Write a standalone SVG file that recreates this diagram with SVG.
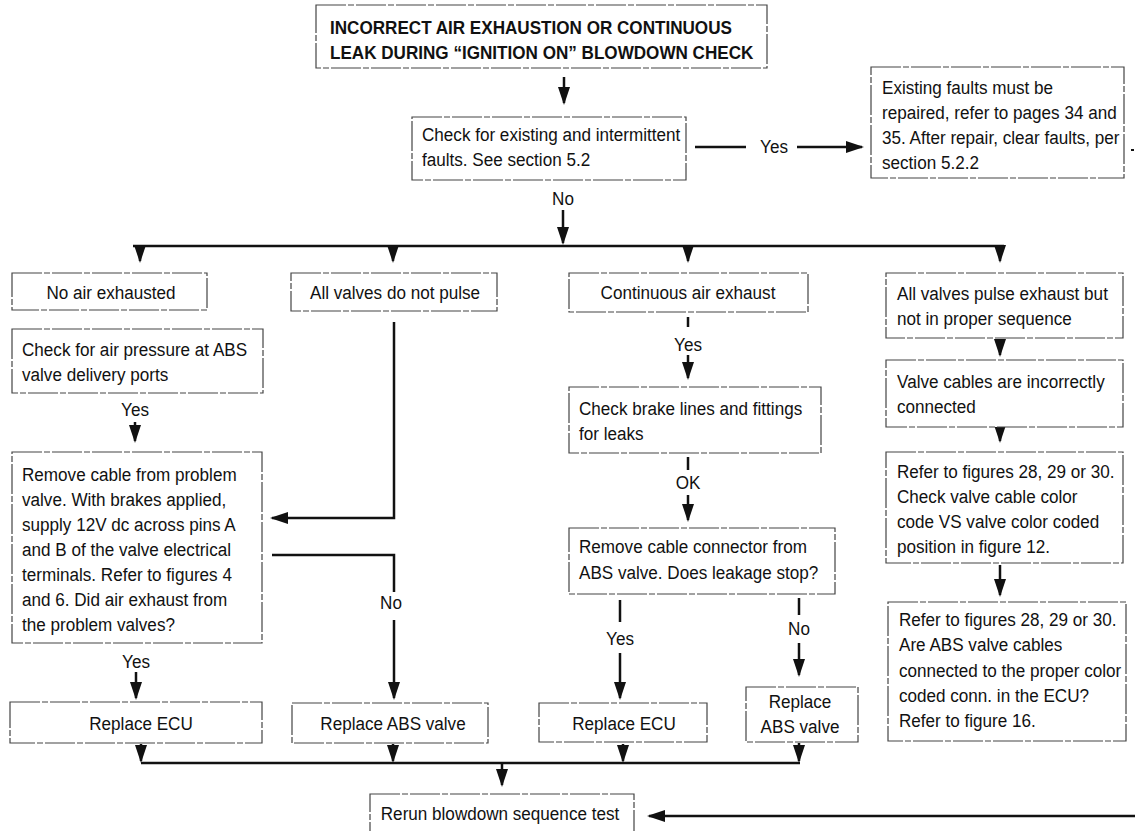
<svg xmlns="http://www.w3.org/2000/svg" width="1135" height="831" viewBox="0 0 1135 831">
<defs>
<style>
.box{fill:#fff;stroke:#444;stroke-width:1.2;stroke-dasharray:30 2 6 2}
.t{font-family:"Liberation Sans",Arial,sans-serif;font-size:19px;fill:#111}
.tb{font-weight:bold}
.m{text-anchor:middle}
.c{fill:none;stroke:#111;stroke-width:2.5}
.a{marker-end:url(#ah)}
</style>
<marker id="ah" viewBox="0 0 18 12" refX="16" refY="6" markerWidth="18" markerHeight="12" markerUnits="userSpaceOnUse" orient="auto">
<path d="M0,0 L18,6 L0,12 z" fill="#111"/>
</marker>
</defs>
<rect width="1135" height="831" fill="#fff"/>

<g id="connectors">
<path class="c a" d="M564,77 V103"/>
<path class="c" d="M695,147 H746"/>
<path class="c a" d="M797,147 H862"/>
<text class="t m" transform="translate(774,153) scale(.9,1)">Yes</text>
<text class="t m" transform="translate(563,205) scale(.9,1)">No</text>
<path class="c a" d="M563,210 V243"/>
<path class="c" d="M133,246 H1004"/>
<path class="c a" d="M140,246 V261"/>
<path class="c a" d="M393,246 V261"/>
<path class="c a" d="M688,246 V261"/>
<path class="c a" d="M1000,246 V261"/>
<text class="t m" transform="translate(135,416) scale(.9,1)">Yes</text>
<path class="c a" d="M135,422 V441"/>
<text class="t m" transform="translate(136,668) scale(.9,1)">Yes</text>
<path class="c a" d="M136,672 V698"/>
<path class="c a" d="M394,322 V518 H272"/>
<path class="c" d="M272,555 H394 V592"/>
<text class="t m" transform="translate(391,609) scale(.9,1)">No</text>
<path class="c a" d="M394,620 V698"/>
<path class="c" d="M688,317 V327"/>
<text class="t m" transform="translate(688,351) scale(.9,1)">Yes</text>
<path class="c a" d="M688,355 V378"/>
<path class="c" d="M688,457 V470"/>
<text class="t m" transform="translate(688,489) scale(.9,1)">OK</text>
<path class="c a" d="M688,495 V520"/>
<path class="c" d="M620,600 V622"/>
<text class="t m" transform="translate(620,645) scale(.9,1)">Yes</text>
<path class="c a" d="M620,653 V698"/>
<path class="c" d="M799,598 V615"/>
<text class="t m" transform="translate(799,635) scale(.9,1)">No</text>
<path class="c a" d="M799,643 V675"/>
<path class="c a" d="M1000,339 V355"/>
<path class="c a" d="M1000,427 V441"/>
<path class="c a" d="M1000,565 V595"/>
<path class="c a" d="M141,744 V761"/>
<path class="c a" d="M393,744 V761"/>
<path class="c a" d="M623,744 V761"/>
<path class="c a" d="M799,743 V761"/>
<path class="c" d="M141,763 H800"/>
<path class="c a" d="M502,763 V785"/>
<path class="c a" d="M1135,816 H649"/>
<rect x="1131" y="149" width="3" height="2" fill="#111"/>
</g>

<g id="n-title">
<rect class="box" x="316" y="5" width="451" height="63"/>
<text class="t tb" transform="translate(330,34) scale(.9,1)"><tspan x="0">INCORRECT AIR EXHAUSTION OR CONTINUOUS</tspan><tspan x="0" dy="25">LEAK DURING “IGNITION ON” BLOWDOWN CHECK</tspan></text>
</g>

<g id="n-check-faults">
<rect class="box" x="412" y="117" width="274" height="63"/>
<text class="t" transform="translate(422,141) scale(.9,1)"><tspan x="0">Check for existing and intermittent</tspan><tspan x="0" dy="25">faults. See section 5.2</tspan></text>
</g>

<g id="n-existing">
<rect class="box" x="871" y="67" width="253" height="111"/>
<text class="t" transform="translate(882,94) scale(.9,1)"><tspan x="0">Existing faults must be</tspan><tspan x="0" dy="25">repaired, refer to pages 34 and</tspan><tspan x="0" dy="25">35. After repair, clear faults, per</tspan><tspan x="0" dy="25">section 5.2.2</tspan></text>
</g>

<g id="n-no-air">
<rect class="box" x="12" y="273" width="195" height="37"/>
<text class="t m" transform="translate(111,299) scale(.9,1)">No air exhausted</text>
</g>

<g id="n-no-pulse">
<rect class="box" x="291" y="273" width="206" height="38"/>
<text class="t m" transform="translate(395,299) scale(.9,1)">All valves do not pulse</text>
</g>

<g id="n-continuous">
<rect class="box" x="569" y="273" width="239" height="39"/>
<text class="t m" transform="translate(688,299) scale(.9,1)">Continuous air exhaust</text>
</g>

<g id="n-sequence">
<rect class="box" x="886" y="273" width="237" height="65"/>
<text class="t" transform="translate(897,300) scale(.9,1)"><tspan x="0">All valves pulse exhaust but</tspan><tspan x="0" dy="25">not in proper sequence</tspan></text>
</g>

<g id="n-air-pressure">
<rect class="box" x="12" y="329" width="251" height="64"/>
<text class="t" transform="translate(22,356) scale(.9,1)"><tspan x="0">Check for air pressure at ABS</tspan><tspan x="0" dy="25">valve delivery ports</tspan></text>
</g>

<g id="n-remove-cable">
<rect class="box" x="12" y="452" width="250" height="191"/>
<text class="t" transform="translate(22,481) scale(.9,1)"><tspan x="0">Remove cable from problem</tspan><tspan x="0" dy="25">valve. With brakes applied,</tspan><tspan x="0" dy="25">supply 12V dc across pins A</tspan><tspan x="0" dy="25">and B of the valve electrical</tspan><tspan x="0" dy="25">terminals. Refer to figures 4</tspan><tspan x="0" dy="25">and 6. Did air exhaust from</tspan><tspan x="0" dy="25">the problem valves?</tspan></text>
</g>

<g id="n-brake-lines">
<rect class="box" x="569" y="387" width="252" height="66"/>
<text class="t" transform="translate(579,415) scale(.9,1)"><tspan x="0">Check brake lines and fittings</tspan><tspan x="0" dy="25">for leaks</tspan></text>
</g>

<g id="n-remove-connector">
<rect class="box" x="569" y="528" width="266" height="66"/>
<text class="t" transform="translate(579,553) scale(.9,1)"><tspan x="0">Remove cable connector from</tspan><tspan x="0" dy="26">ABS valve. Does leakage stop?</tspan></text>
</g>

<g id="n-incorrect">
<rect class="box" x="886" y="360" width="237" height="67"/>
<text class="t" transform="translate(897,388) scale(.9,1)"><tspan x="0">Valve cables are incorrectly</tspan><tspan x="0" dy="25">connected</tspan></text>
</g>

<g id="n-fig12">
<rect class="box" x="886" y="452" width="237" height="111"/>
<text class="t" transform="translate(897,478) scale(.9,1)"><tspan x="0">Refer to figures 28, 29 or 30.</tspan><tspan x="0" dy="25">Check valve cable color</tspan><tspan x="0" dy="25">code VS valve color coded</tspan><tspan x="0" dy="25">position in figure 12.</tspan></text>
</g>

<g id="n-fig16">
<rect class="box" x="888" y="602" width="238" height="139"/>
<text class="t" transform="translate(899,626) scale(.9,1)"><tspan x="0">Refer to figures 28, 29 or 30.</tspan><tspan x="0" dy="25.3">Are ABS valve cables</tspan><tspan x="0" dy="25.3">connected to the proper color</tspan><tspan x="0" dy="25.3">coded conn. in the ECU?</tspan><tspan x="0" dy="25.3">Refer to figure 16.</tspan></text>
</g>

<g id="n-ecu1">
<rect class="box" x="10" y="702" width="252" height="41"/>
<text class="t m" transform="translate(141,730) scale(.9,1)">Replace ECU</text>
</g>

<g id="n-abs1">
<rect class="box" x="292" y="703" width="196" height="40"/>
<text class="t m" transform="translate(393,730) scale(.9,1)">Replace ABS valve</text>
</g>

<g id="n-ecu2">
<rect class="box" x="539" y="703" width="168" height="39"/>
<text class="t m" transform="translate(624,730) scale(.9,1)">Replace ECU</text>
</g>

<g id="n-abs2">
<rect class="box" x="746" y="687" width="112" height="55"/>
<text class="t m" transform="translate(800,708) scale(.9,1)"><tspan x="0">Replace</tspan><tspan x="0" dy="25">ABS valve</tspan></text>
</g>

<g id="n-rerun">
<rect class="box" x="370" y="794" width="264" height="45"/>
<text class="t m" transform="translate(500,820) scale(.9,1)">Rerun blowdown sequence test</text>
</g>
</svg>
